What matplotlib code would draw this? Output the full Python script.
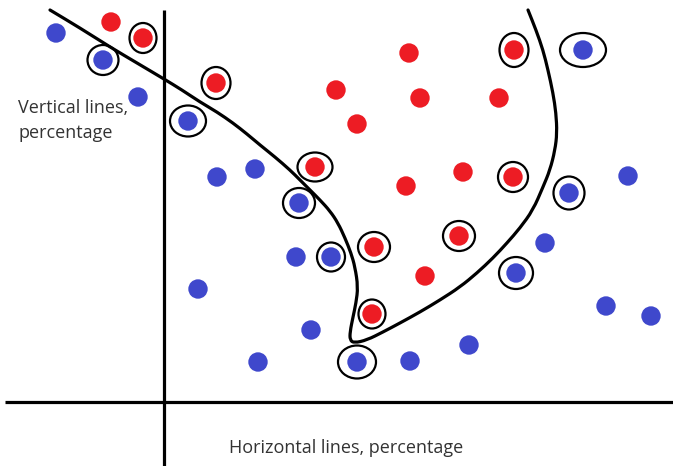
import matplotlib
matplotlib.use("Agg")
import matplotlib.pyplot as plt
from matplotlib.patches import Ellipse, PathPatch
from matplotlib.path import Path

# ---- data (x: horizontal lines %, y: vertical lines %; origin at axes crossing) ----
blue_x = [-108, -61, -26, 24, 53, 91, 135, 132, 167, 34, 147, 94, 193, 246, 305, 352, 381, 405, 464, 419, 442, 487]
blue_y = [369, 342, 305, 281, 225, 233, 199, 145, 145, 113, 72, 40, 40, 41, 57, 129, 159, 209, 226, 352, 96, 86]
blue_circled = [0, 1, 0, 1, 0, 0, 1, 0, 1, 0, 0, 0, 1, 0, 0, 1, 0, 1, 0, 1, 0, 0]

red_x = [-53, -21, 52, 172, 245, 256, 335, 350, 193, 151, 242, 299, 349, 210, 295, 261, 208]
red_y = [380, 364, 319, 312, 349, 304, 304, 352, 278, 235, 216, 230, 225, 155, 166, 126, 88]
red_circled = [0, 1, 1, 0, 0, 0, 0, 1, 0, 1, 0, 0, 1, 1, 1, 0, 1]

boundary_x = [-114, -84, -54, -27, 0, 18, 36, 53, 69, 83, 96, 111, 126, 136, 146, 156, 166, 174,
              181, 187, 191, 194, 192, 189, 186, 186, 190, 203, 219, 236, 256, 276, 296, 313,
              329, 343, 356, 369, 379, 386, 391, 393, 392, 389, 384, 379, 372, 364]
boundary_y = [392, 374, 355, 339, 323, 312, 300, 290, 279, 268, 257, 245, 232, 222, 212, 202, 191, 179,
              164, 149, 135, 115, 99, 85, 70, 62, 59, 62, 70, 79, 90, 102, 115, 129,
              144, 159, 174, 192, 215, 232, 252, 269, 289, 309, 332, 352, 372, 392]

# ---- styling (ring radii for circled points, in plot units) ----
blue_ring = {1: (15.5, 15), 3: (18, 15.5), 6: (16, 15), 8: (14, 14.5), 12: (19, 16.5),
             15: (17, 16), 17: (15.5, 16.5), 19: (23, 17)}
red_ring = {1: (13.5, 15), 2: (14.5, 16), 7: (14.5, 17), 9: (17.5, 14.5), 12: (15, 15),
            13: (16, 15), 14: (16, 15), 16: (13.5, 14.5)}

BLUE = "#3F48CC"
RED = "#ED1C24"

W, H = 673, 466
OX, OY = 164, 402  # pixel position of the axes crossing

fig = plt.figure(figsize=(W / 100, H / 100), dpi=100)
ax = fig.add_axes([0, 0, 1, 1])
ax.set_xlim(-OX, W - OX)
ax.set_ylim(-(H - OY), OY)
ax.axis("off")

# axes lines
ax.plot([0, 0], [-(H - OY), OY - 10], color="black", lw=2.3, solid_capstyle="butt", zorder=1)
ax.plot([5 - OX, W - OX], [0, 0], color="black", lw=2.3, solid_capstyle="butt", zorder=1)

# decision boundary: smooth quadratic Bezier through midpoints of the control points
pts = list(zip(boundary_x, boundary_y))
verts = [pts[0], ((pts[0][0] + pts[1][0]) / 2, (pts[0][1] + pts[1][1]) / 2)]
codes = [Path.MOVETO, Path.LINETO]
for i in range(1, len(pts) - 1):
    mid = ((pts[i][0] + pts[i + 1][0]) / 2, (pts[i][1] + pts[i + 1][1]) / 2)
    verts += [pts[i], mid]
    codes += [Path.CURVE3, Path.CURVE3]
verts.append(pts[-1])
codes.append(Path.LINETO)
ax.add_patch(PathPatch(Path(verts, codes), fill=False, edgecolor="black", lw=2.3,
                       joinstyle="round", capstyle="round", zorder=2))

# points
ax.scatter(blue_x, blue_y, s=195, color=BLUE, edgecolors="none", zorder=3)
ax.scatter(red_x, red_y, s=195, color=RED, edgecolors="none", zorder=3)

# rings around circled points
for xs, ys, flags, rings in ((blue_x, blue_y, blue_circled, blue_ring),
                             (red_x, red_y, red_circled, red_ring)):
    for i, (x, y, c) in enumerate(zip(xs, ys, flags)):
        if c:
            rx, ry = rings.get(i, (16, 15))
            ax.add_patch(Ellipse((x, y), 2 * rx, 2 * ry, fill=False, edgecolor="black",
                                 lw=1.6, zorder=4))

font = ["Open Sans", "DejaVu Sans"]
ax.text(18 - OX, OY - 113, "Vertical lines,", fontsize=13, family=font, color="#333333",
        ha="left", va="baseline")
ax.text(18 - OX, OY - 138, "percentage", fontsize=13, family=font, color="#333333",
        ha="left", va="baseline")
ax.text(229 - OX, OY - 453, "Horizontal lines, percentage", fontsize=13, family=font,
        color="#333333", ha="left", va="baseline")

fig.savefig("out.png", dpi=100)
